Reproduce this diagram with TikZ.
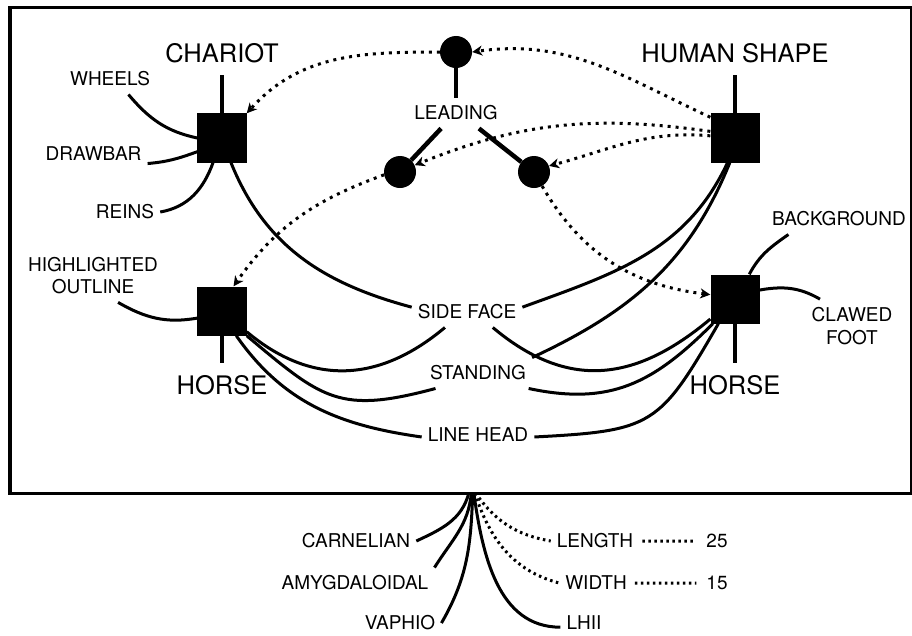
\documentclass[tikz,border=0pt]{standalone}
\usepackage{fontspec}
\setmainfont{TeX Gyre Heros}
\usetikzlibrary{arrows.meta}

\begin{document}
\begin{tikzpicture}[scale=0.3514,
  box/.style={fill=black, minimum size=49pt, inner sep=0pt},
  dot/.style={circle, fill=black, minimum size=32pt, inner sep=0pt},
  big/.style={font=\fontsize{25.5}{30}\selectfont, inner xsep=4pt, inner ysep=12pt},
  lbl/.style={font=\fontsize{19}{22.8}\selectfont, align=center, inner xsep=6pt, inner ysep=8pt},
  stem/.style={line width=4.5pt},
  link/.style={line width=3pt},
  hint/.style={line width=3pt, dash pattern=on 3pt off 5pt, -{Stealth[length=10pt,width=10pt,inset=3pt]}},
  fine/.style={line width=3pt, dash pattern=on 2.5pt off 3.5pt},
  frame/.style={line width=3pt}]
  \useasboundingbox (0,0) rectangle (91.2,-63.5);
  \draw [frame] (1.0,-0.75) rectangle (91.1,-49.3);
  \node [box] (chariot) at (22.2,-13.8) {};
  \node [box] (human) at (73.5,-13.8) {};
  \node [box] (horseL) at (22.2,-31.1) {};
  \node [box] (horseR) at (73.5,-29.9) {};
  \node [big] (chariotlbl) at (22.2,-5.3) {CHARIOT};
  \node [big] (humanlbl) at (73.5,-5.3) {HUMAN SHAPE};
  \node [big] (horseLlbl) at (22.2,-38.5) {HORSE};
  \node [big] (horseRlbl) at (73.5,-38.5) {HORSE};
  \draw [stem] (chariot.north) -- (chariotlbl.south);
  \draw [stem] (human.north) -- (humanlbl.south);
  \draw [stem] (horseL.south) -- (horseLlbl.north);
  \draw [stem] (horseR.south) -- (horseRlbl.north);
  \node [dot] (lead) at (45.6,-5.2) {};
  \node [dot] (leadL) at (40.0,-17.2) {};
  \node [dot] (leadR) at (53.4,-17.2) {};
  \node [lbl] (leading) at (45.6,-11.3) {LEADING};
  \draw [stem] (lead.south) -- (leading.north);
  \draw [stem] (leading.226) -- (leadL);
  \draw [stem] (leading.326) -- (leadR);
  \node [lbl] (wheels) at (11.0,-7.9) {WHEELS};
  \node [lbl] (drawbar) at (9.35,-15.4) {DRAWBAR};
  \node [lbl] (reins) at (12.5,-21.2) {REINS};
  \node [lbl] (highlight) at (9.3,-27.55) {HIGHLIGHTED\\OUTLINE};
  \node [lbl] (sideface) at (46.7,-31.2) {SIDE FACE};
  \node [lbl] (standing) at (47.8,-37.3) {STANDING};
  \node [lbl] (linehead) at (47.8,-43.5) {LINE HEAD};
  \node [lbl] (background) at (83.9,-21.9) {BACKGROUND};
  \node [lbl] (clawed) at (85.2,-32.6) {CLAWED\\FOOT};
  \draw [hint] (human.140) to[out=155,in=8] (lead.east);
  \draw [hint] (lead.west) to[out=180,in=48] (chariot.north east);
  \draw [hint] (human.165) to[out=172,in=22] (leadL.25);
  \draw [hint] (human.175) to[out=175,in=15] (leadR.22);
  \draw [hint] (leadL.190) to[out=200,in=55] (horseL.65);
  \draw [hint] (leadR.300) to[out=-60,in=173] (horseR.170);
  \draw [link] (wheels.320) to[out=-50,in=168] (chariot.west);
  \draw [link] (drawbar.350) to[out=5,in=200] (chariot.209);
  \draw [link] (reins.east) to[out=10,in=250] (chariot.250);
  \draw [link] (chariot.290) to[out=-68,in=165] (sideface.175);
  \draw [link] (sideface.5) to[out=20,in=245] (human.253);
  \draw [link] (standing.north east) to[out=25,in=248] (human.258);
  \draw [link] (horseL.320) to[out=-40,in=220,looseness=1.1] (sideface.215);
  \draw [link] (sideface.329) to[out=-40,in=220,looseness=1.15] (horseR.219);
  \draw [link] (horseL.south east) to[out=-40,in=195,looseness=1.3] (standing.200);
  \draw [link] (standing.343) to[out=-12,in=225,looseness=1.1] (horseR.228);
  \draw [link] (horseL.300) to[out=-55,in=172] (linehead.182);
  \draw [link] (linehead.358) to[out=3,in=240,looseness=1.4] (horseR.236);
  \draw [link] (highlight.313) to[out=-30,in=190] (horseL.196);
  \draw [link] (background.197) to[out=215,in=62] (horseR.60);
  \draw [link] (horseR.20) to[out=10,in=150] (clawed.140);
  \coordinate (hub) at (47.2,-49.3);
  \node [lbl] (carnelian) at (35.6,-54.1) {CARNELIAN};
  \node [lbl] (amygdaloidal) at (35.5,-58.3) {AMYGDALOIDAL};
  \node [lbl] (vaphio) at (40.0,-62.3) {VAPHIO};
  \node [lbl] (lhii) at (58.4,-62.3) {LHII};
  \node [lbl] (length) at (59.5,-54.1) {LENGTH};
  \node [lbl] (width) at (59.6,-58.3) {WIDTH};
  \node [lbl] (n25) at (71.7,-54.1) {25};
  \node [lbl] (n15) at (71.7,-58.3) {15};
  \draw [link] (carnelian.east) to[out=25,in=255] ([xshift=-9pt]hub);
  \draw [link] (amygdaloidal.north east) to[out=58,in=265] ([xshift=-2pt]hub);
  \draw [link] (vaphio.east) to[out=60,in=268] ([xshift=2pt]hub);
  \draw [link] (lhii.190) to[out=180,in=-82] ([xshift=5pt]hub);
  \draw [fine] ([xshift=10pt]hub) to[out=-55,in=170] (length.west);
  \draw [fine] ([xshift=8pt]hub) to[out=-72,in=165] (width.west);
  \draw [fine, shorten <=3pt, shorten >=4pt] (length) -- (n25);
  \draw [fine, shorten <=2pt, shorten >=4pt] (width) -- (n15);
\end{tikzpicture}
\end{document}
